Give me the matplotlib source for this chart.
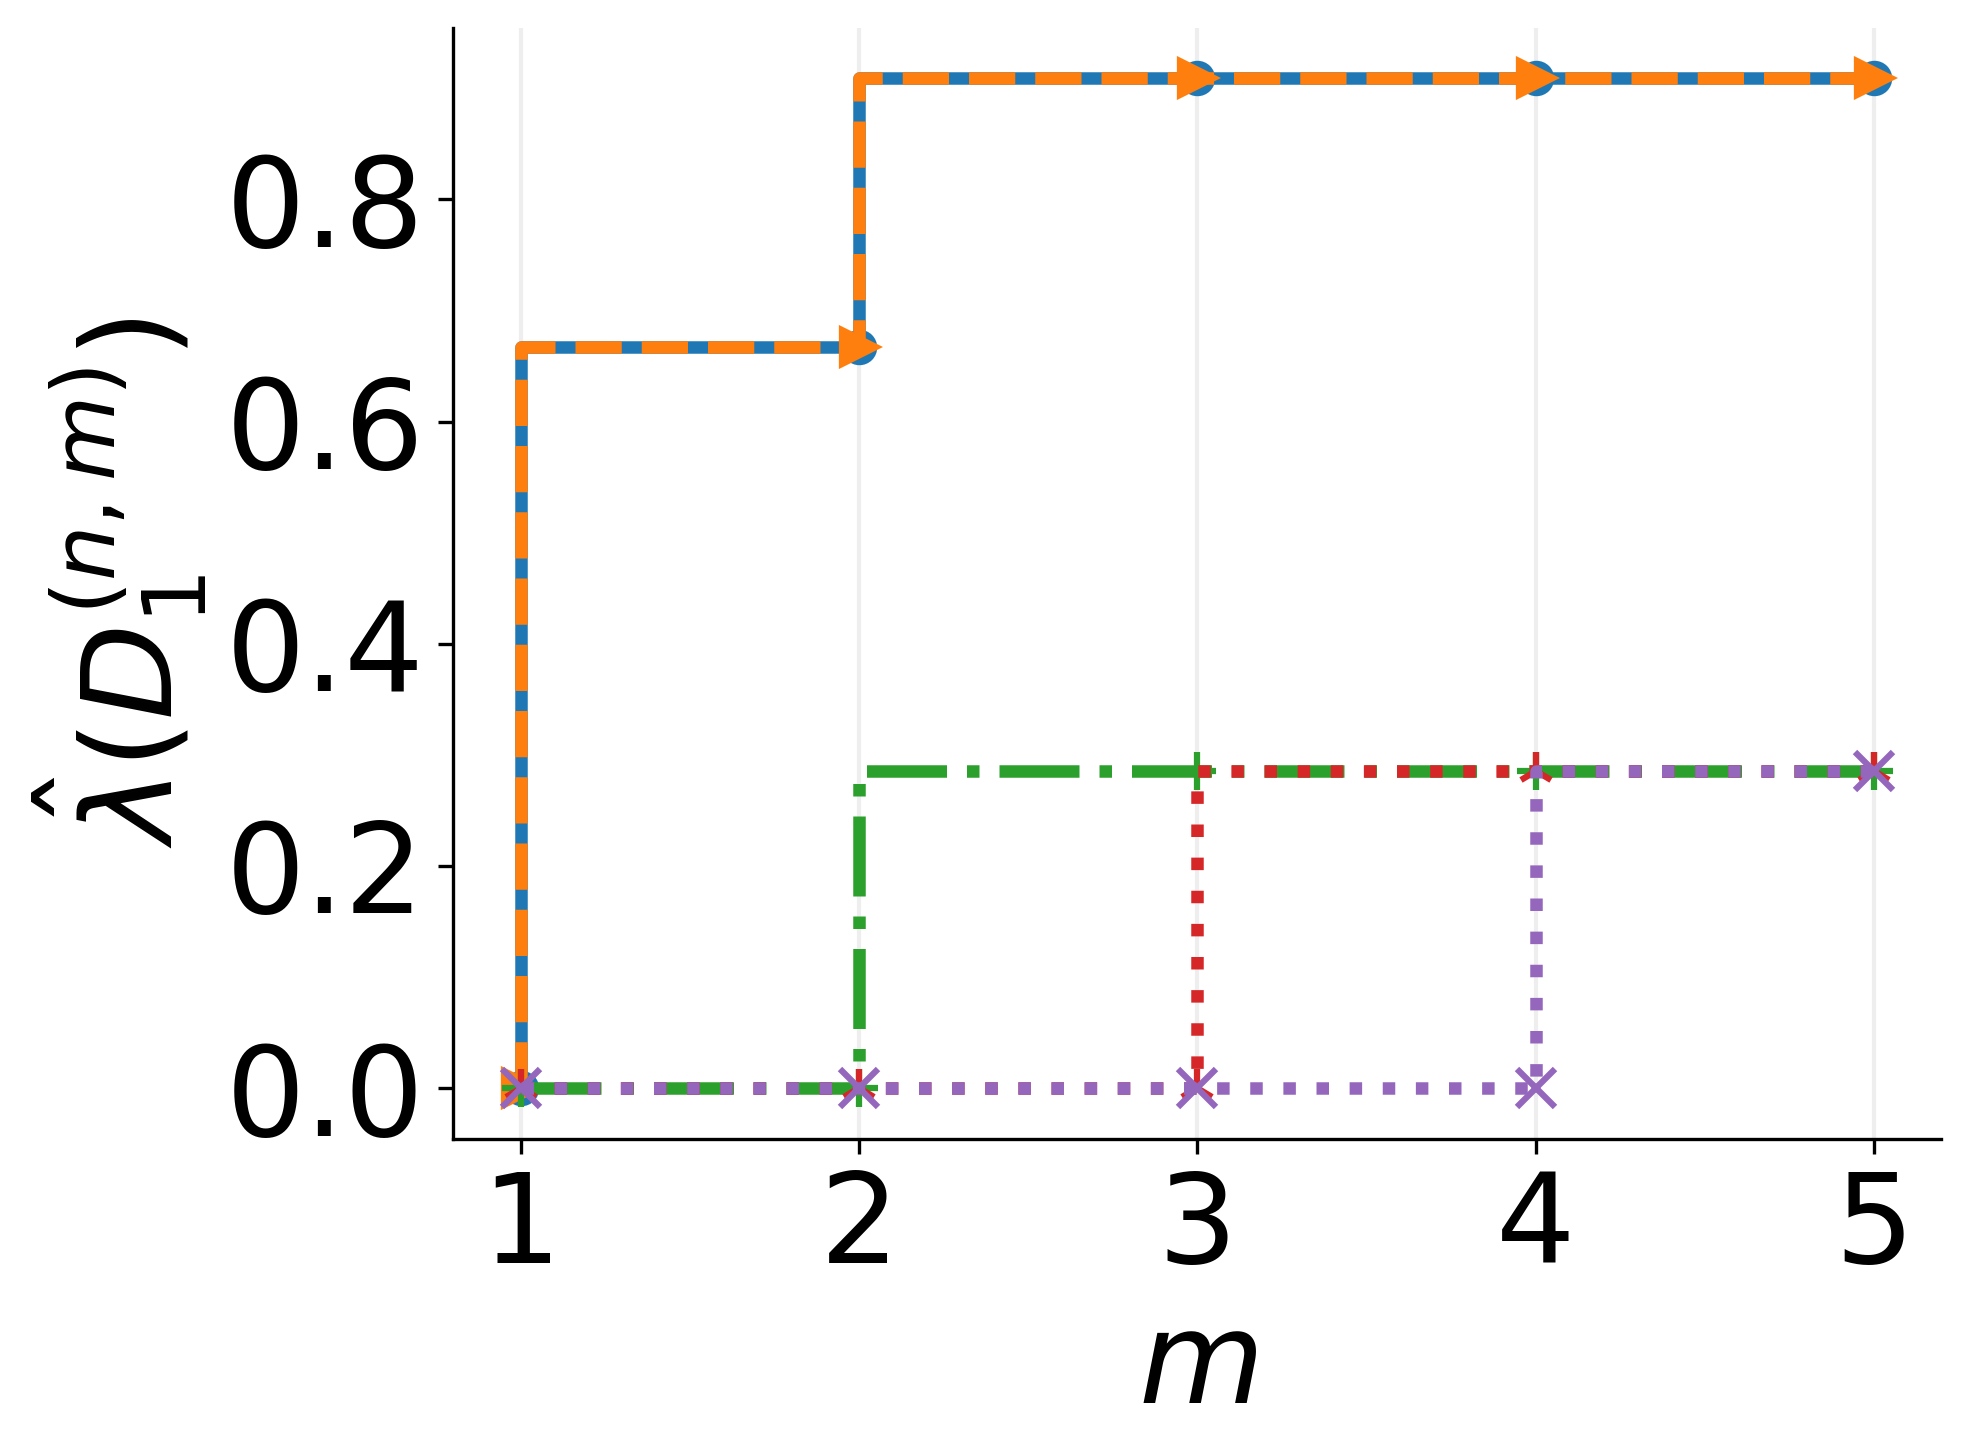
import numpy as np
import matplotlib
matplotlib.use("Agg")
import matplotlib.pyplot as plt

# valeurs
m_values = [1, 2, 3, 4, 5]
serie_a = [0.0, 2 / 3, 10 / 11, 10 / 11, 10 / 11]
serie_b = [0.0, 2 / 3, 10 / 11, 10 / 11, 10 / 11]
serie_c = [0.0, 0.0, 2 / 7, 2 / 7, 2 / 7]
serie_d = [0.0, 0.0, 0.0, 2 / 7, 2 / 7]
serie_e = [0.0, 0.0, 0.0, 0.0, 2 / 7]

styles = [
    (serie_a, "C0", "-", "o", 7),
    (serie_b, "C1", "--", ">", 8),
    (serie_c, "C2", "-.", "+", 9),
    (serie_d, "C3", ":", "2", 9),
    (serie_e, "C4", ":", "x", 9),
]

fig = plt.figure(figsize=(1971 / 300, 1456 / 300), dpi=300)
ax = fig.add_axes([0.23, 0.218, 0.755, 0.763])

for ys, col, ls, mk, ms in styles:
    ax.step(m_values, ys, where="pre", color=col, linestyle=ls, linewidth=3)
    ax.plot(m_values, ys, linestyle="none", marker=mk, color=col, markersize=ms,
            markeredgewidth=1.5)

ax.set_xticks(m_values)
ax.set_yticks([0.0, 0.2, 0.4, 0.6, 0.8])
ax.tick_params(axis="both", labelsize=30)
ax.grid(axis="x", color="#eeeeee", linewidth=1)
ax.set_axisbelow(True)
ax.spines["top"].set_visible(False)
ax.spines["right"].set_visible(False)
ax.set_xlabel("$m$", fontsize=31)
ax.set_ylabel(r"$\hat{\lambda}(D_1^{(n,m)})$", fontsize=30)

fig.savefig("out.png", dpi=300)
